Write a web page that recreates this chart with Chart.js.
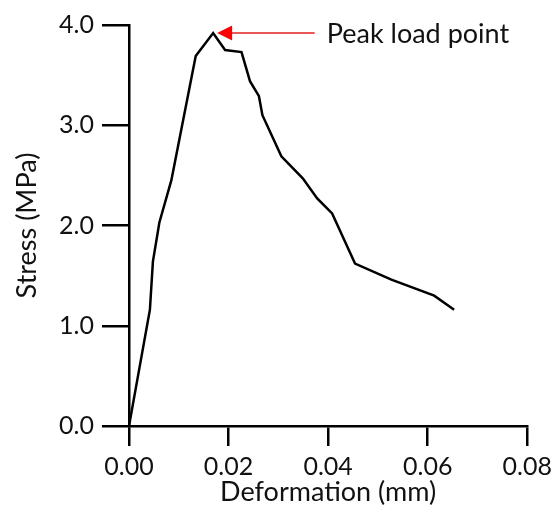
<!DOCTYPE html>
<html>
<head>
<meta charset="utf-8">
<script src="https://cdn.jsdelivr.net/npm/chart.js@4.4.1/dist/chart.umd.min.js"></script>
<style>
  html, body { margin: 0; padding: 0; background: #fff; }
  #wrap { width: 558px; height: 506px; }
</style>
</head>
<body>
<div id="wrap"><canvas id="chart"></canvas></div>
<script>
// curve
const deformation = [0, 0.0042, 0.0048, 0.0061, 0.0085, 0.0134, 0.0169, 0.0193, 0.0226, 0.0243, 0.0261, 0.0268, 0.0306, 0.0349, 0.0378, 0.0408, 0.0454, 0.0527, 0.0613, 0.0653];
const stress = [0, 1.16, 1.64, 2.03, 2.45, 3.69, 3.92, 3.75, 3.73, 3.44, 3.29, 3.10, 2.69, 2.47, 2.27, 2.12, 1.62, 1.46, 1.30, 1.16];
const xTicks = [0, 0.02, 0.04, 0.06, 0.08];
const yTicks = [0, 1, 2, 3, 4];
const peakLabel = 'Peak load point';

const FONT = 'Lato';
const peakIdx = stress.indexOf(Math.max(...stress));

// red arrow + text pointing at the peak
const peakArrow = {
    id: 'peakArrow',
    afterDatasetsDraw(chart) {
        const ctx = chart.ctx;
        const xs = chart.scales.x, ys = chart.scales.y;
        const px = xs.getPixelForValue(deformation[peakIdx]);
        const py = ys.getPixelForValue(stress[peakIdx]);
        const tipX = px + 4;
        const endX = xs.getPixelForValue(0.0373);
        ctx.save();
        ctx.strokeStyle = '#e02020';
        ctx.lineWidth = 1.5;
        ctx.beginPath();
        ctx.moveTo(tipX + 12, py);
        ctx.lineTo(endX, py);
        ctx.stroke();
        ctx.fillStyle = '#ff0000';
        ctx.beginPath();
        ctx.moveTo(tipX, py);
        ctx.lineTo(tipX + 15, py - 7.5);
        ctx.lineTo(tipX + 15, py + 7.5);
        ctx.closePath();
        ctx.fill();
        ctx.fillStyle = '#111';
        ctx.font = '27px ' + FONT;
        ctx.textBaseline = 'middle';
        ctx.fillText(peakLabel, endX + 12, py + 1);
        ctx.restore();
    }
};

const chart = document.querySelector('#chart').getContext('2d');

new Chart(chart, {
    type: 'line',
    data: {
        datasets: [{
            data: deformation.map((d, i) => ({ x: d, y: stress[i] })),
            borderColor: '#000',
            borderWidth: 2.5,
            pointRadius: 0,
            tension: 0
        }]
    },
    options: {
        responsive: true,
        maintainAspectRatio: false,
        animation: false,
        layout: { padding: { top: 25, right: 25, left: 0, bottom: 0 } },
        plugins: { legend: { display: false }, tooltip: { enabled: false } },
        scales: {
            x: {
                type: 'linear',
                min: xTicks[0],
                max: xTicks[xTicks.length - 1],
                afterFit(scale) { scale.height = 80; },
                afterBuildTicks(scale) { scale.ticks = xTicks.map(v => ({ value: v })); },
                border: { color: '#000', width: 2.5 },
                grid: { drawOnChartArea: false, drawTicks: true, tickLength: 20, tickColor: '#000', lineWidth: 2.5 },
                ticks: {
                    color: '#111',
                    padding: 6,
                    maxRotation: 0,
                    font: { family: FONT, size: 25 },
                    callback: v => v.toFixed(2)
                },
                title: {
                    display: true,
                    text: 'Deformation (mm)',
                    color: '#111',
                    font: { family: FONT, size: 27, lineHeight: 1 },
                    padding: { top: 0, bottom: 0 }
                }
            },
            y: {
                min: yTicks[0],
                max: yTicks[yTicks.length - 1],
                afterFit(scale) { scale.width = 129; },
                afterBuildTicks(scale) { scale.ticks = yTicks.map(v => ({ value: v })); },
                border: { color: '#000', width: 2.5 },
                grid: { drawOnChartArea: false, drawTicks: true, tickLength: 27, tickColor: '#000', lineWidth: 2.5 },
                ticks: {
                    color: '#111',
                    padding: 8,
                    font: { family: FONT, size: 25 },
                    callback: v => v.toFixed(1)
                },
                title: {
                    display: true,
                    text: 'Stress (MPa)',
                    color: '#111',
                    font: { family: FONT, size: 27, lineHeight: 1 },
                    padding: { top: 14, bottom: 0 }
                }
            }
        }
    },
    plugins: [peakArrow]
});
</script>
</body>
</html>
